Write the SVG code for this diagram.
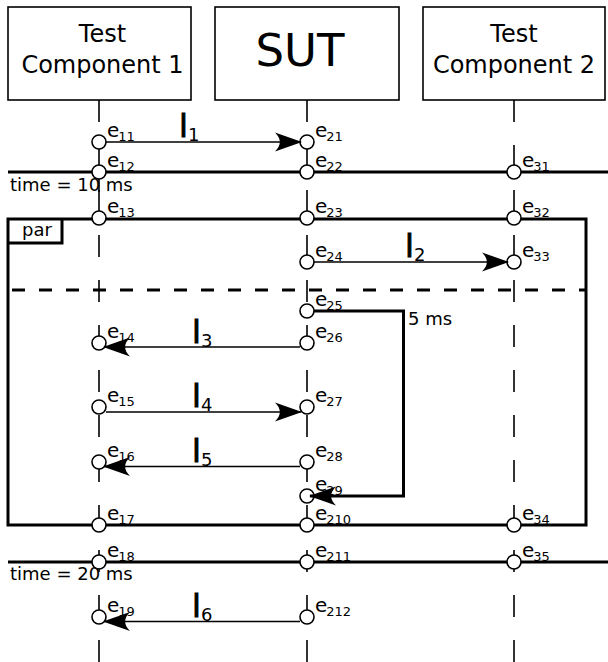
<svg xmlns="http://www.w3.org/2000/svg" width="608" height="662" viewBox="0 0 608 662">
<style>
text{font-family:"DejaVu Sans","Liberation Sans",sans-serif;fill:#000}
.box{fill:#fff;stroke:#000;stroke-width:1.6}
.life{stroke:#000;stroke-width:1.6;stroke-dasharray:22 23;fill:none}
.ev{fill:#fff;stroke:#000;stroke-width:1.6}
.msg{stroke:#000;stroke-width:1.6;fill:none;marker-end:url(#ah)}
.thick{stroke:#000;stroke-width:3;fill:none}
.hd{font-size:24px;text-anchor:middle}
.el{font-size:20px}
.sub{font-size:13px}
.ml{font-size:32px;stroke:#000;stroke-width:0.9}
.mls{font-size:18px;stroke:none}
.tx{font-size:18px}
</style>
<defs>
<marker id="ah" markerUnits="userSpaceOnUse" viewBox="-28 -11 30 22" refX="0" refY="0" markerWidth="30" markerHeight="22" orient="auto" overflow="visible">
<path d="M1,0 L-26,-9.5 C-19.5,-3 -19.5,3 -26,9.5 Z" fill="#000"/>
</marker>
</defs>

<g id="frames">
<rect x="8" y="219" width="578" height="306" class="thick"/>
<path d="M8,243 H62 V219" class="thick"/>
<text x="22" y="236" class="tx" font-size="17">par</text>
<line x1="12" y1="290" x2="586" y2="290" stroke="#000" stroke-width="3" stroke-dasharray="13 14"/>
</g>

<g id="tc1">
<rect x="8" y="7" width="183" height="93" class="box"/>
<text x="102.5" y="42" class="hd">Test</text>
<text x="102.5" y="73" class="hd">Component 1</text>
<line x1="99" y1="100" x2="99" y2="662" class="life"/>
<line x1="99" y1="165" x2="99" y2="192" stroke="#000" stroke-width="1.6"/>
</g>

<g id="sut">
<rect x="215" y="7" width="184" height="93" class="box"/>
<text x="300" y="66" font-size="45" text-anchor="middle">SUT</text>
<line x1="307" y1="100" x2="307" y2="662" class="life"/>
</g>

<g id="tc2">
<rect x="423" y="7" width="182" height="93" class="box"/>
<text x="514" y="42" class="hd">Test</text>
<text x="514" y="73" class="hd">Component 2</text>
<line x1="514" y1="100" x2="514" y2="662" class="life"/>
</g>

<g id="timelines">
<line x1="8" y1="172" x2="608" y2="172" class="thick"/>
<text x="10" y="191" class="tx" font-size="18.5">time = 10 ms</text>
<line x1="8" y1="562" x2="608" y2="562" class="thick"/>
<text x="10" y="580" class="tx" font-size="18.5">time = 20 ms</text>
</g>

<g id="events">
<circle cx="99" cy="142" r="7" class="ev"/>
<circle cx="99" cy="172" r="7" class="ev"/>
<circle cx="99" cy="218" r="7" class="ev"/>
<circle cx="99" cy="343" r="7" class="ev"/>
<circle cx="99" cy="407" r="7" class="ev"/>
<circle cx="99" cy="462" r="7" class="ev"/>
<circle cx="99" cy="525" r="7" class="ev"/>
<circle cx="99" cy="562" r="7" class="ev"/>
<circle cx="99" cy="617" r="7" class="ev"/>
<circle cx="307" cy="142" r="7" class="ev"/>
<circle cx="307" cy="172" r="7" class="ev"/>
<circle cx="307" cy="218" r="7" class="ev"/>
<circle cx="307" cy="262" r="7" class="ev"/>
<circle cx="307" cy="311" r="7" class="ev"/>
<circle cx="307" cy="343" r="7" class="ev"/>
<circle cx="307" cy="407" r="7" class="ev"/>
<circle cx="307" cy="462" r="7" class="ev"/>
<circle cx="307" cy="496" r="7" class="ev"/>
<circle cx="307" cy="525" r="7" class="ev"/>
<circle cx="307" cy="562" r="7" class="ev"/>
<circle cx="307" cy="617" r="7" class="ev"/>
<circle cx="514" cy="172" r="7" class="ev"/>
<circle cx="514" cy="218" r="7" class="ev"/>
<circle cx="514" cy="262" r="7" class="ev"/>
<circle cx="514" cy="525" r="7" class="ev"/>
<circle cx="514" cy="562" r="7" class="ev"/>
</g>

<g id="event-labels" class="el">
<text x="107" y="136.5">e<tspan class="sub" dy="4" dx="-1">11</tspan></text>
<text x="107" y="166.5">e<tspan class="sub" dy="4" dx="-1">12</tspan></text>
<text x="107" y="212.5">e<tspan class="sub" dy="4" dx="-1">13</tspan></text>
<text x="107" y="337.5">e<tspan class="sub" dy="4" dx="-1">14</tspan></text>
<text x="107" y="401.5">e<tspan class="sub" dy="4" dx="-1">15</tspan></text>
<text x="107" y="456.5">e<tspan class="sub" dy="4" dx="-1">16</tspan></text>
<text x="107" y="519.5">e<tspan class="sub" dy="4" dx="-1">17</tspan></text>
<text x="107" y="556.5">e<tspan class="sub" dy="4" dx="-1">18</tspan></text>
<text x="107" y="611.5">e<tspan class="sub" dy="4" dx="-1">19</tspan></text>
<text x="315" y="136.5">e<tspan class="sub" dy="4" dx="-1">21</tspan></text>
<text x="315" y="166.5">e<tspan class="sub" dy="4" dx="-1">22</tspan></text>
<text x="315" y="212.5">e<tspan class="sub" dy="4" dx="-1">23</tspan></text>
<text x="315" y="256.5">e<tspan class="sub" dy="4" dx="-1">24</tspan></text>
<text x="315" y="305.5">e<tspan class="sub" dy="4" dx="-1">25</tspan></text>
<text x="315" y="337.5">e<tspan class="sub" dy="4" dx="-1">26</tspan></text>
<text x="315" y="401.5">e<tspan class="sub" dy="4" dx="-1">27</tspan></text>
<text x="315" y="456.5">e<tspan class="sub" dy="4" dx="-1">28</tspan></text>
<text x="315" y="490.5">e<tspan class="sub" dy="4" dx="-1">29</tspan></text>
<text x="315" y="519.5">e<tspan class="sub" dy="4" dx="-1">210</tspan></text>
<text x="315" y="556.5">e<tspan class="sub" dy="4" dx="-1">211</tspan></text>
<text x="315" y="611.5">e<tspan class="sub" dy="4" dx="-1">212</tspan></text>
<text x="522" y="166.5">e<tspan class="sub" dy="4" dx="-1">31</tspan></text>
<text x="522" y="212.5">e<tspan class="sub" dy="4" dx="-1">32</tspan></text>
<text x="522" y="256.5">e<tspan class="sub" dy="4" dx="-1">33</tspan></text>
<text x="522" y="519.5">e<tspan class="sub" dy="4" dx="-1">34</tspan></text>
<text x="522" y="556.5">e<tspan class="sub" dy="4" dx="-1">35</tspan></text>
</g>

<g id="connectors">
<line x1="106" y1="142" x2="301" y2="142" class="msg"/>
<line x1="314" y1="262" x2="508" y2="262" class="msg"/>
<line x1="300" y1="347" x2="104" y2="347" class="msg"/>
<line x1="106" y1="412" x2="301" y2="412" class="msg"/>
<line x1="300" y1="466.5" x2="104" y2="466.5" class="msg"/>
<line x1="300" y1="621.5" x2="104" y2="621.5" class="msg"/>
<path d="M314,311 H403.5 V496 H310" class="thick" stroke-width="3.2" marker-end="url(#ah)"/>
</g>

<g id="connector-labels">
<text x="179" y="137" class="ml">l<tspan class="mls" dy="4">1</tspan></text>
<text x="405" y="257" class="ml">l<tspan class="mls" dy="4">2</tspan></text>
<text x="192" y="343" class="ml">l<tspan class="mls" dy="4">3</tspan></text>
<text x="192" y="407" class="ml">l<tspan class="mls" dy="4">4</tspan></text>
<text x="192" y="461.5" class="ml">l<tspan class="mls" dy="4">5</tspan></text>
<text x="192" y="616.5" class="ml">l<tspan class="mls" dy="4">6</tspan></text>
<text x="408" y="325" class="tx">5 ms</text>
</g>
</svg>
